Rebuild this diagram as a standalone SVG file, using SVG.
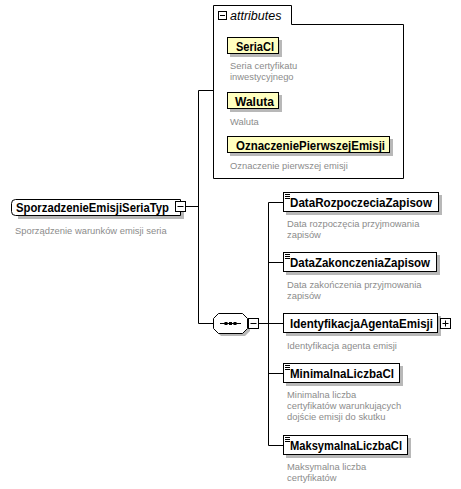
<svg xmlns="http://www.w3.org/2000/svg" width="461" height="489" viewBox="0 0 461 489">
<style>
.lbl{font-family:"Liberation Sans",Arial,sans-serif;font-weight:bold;font-size:12.6px;fill:#000}
.desc{font-family:"Liberation Sans",Arial,sans-serif;font-size:9.4px;fill:#8c8c8c}
.box{fill:#fff;stroke:#000;stroke-width:1}
.attr{fill:#ffffc0;stroke:#000;stroke-width:1}
.sh{fill:#b8b8b8}
.ln{stroke:#000;stroke-width:1;fill:none}
.btn{fill:#fff;stroke:#000;stroke-width:1}
</style>
<rect width="461" height="489" fill="#fff"/>
<g id="connectors" class="ln">
<path d="M185.5,206.5 H198.5 M198.5,90.5 V323.5 M198.5,90.5 H213.5 M198.5,323.5 H213.5"/>
<path d="M258.5,323.5 H283 M268.5,202.5 V445.5 M268.5,202.5 H283 M268.5,262.5 H283 M268.5,373.5 H283 M268.5,445.5 H283"/>
</g>
<g id="root">
<path class="sh" d="M18,202 H184 V219 H18 Z"/>
<path class="box" d="M15.5,199.5 H180.5 V215.5 H15.5 Q11.5,215.5 11.5,211.5 V203.5 Q11.5,199.5 15.5,199.5 Z"/>
<text class="lbl" x="16" y="212" textLength="153" lengthAdjust="spacingAndGlyphs">SporzadzenieEmisjiSeriaTyp</text>
<rect class="btn" x="175.5" y="201.5" width="10" height="10"/>
<path class="ln" d="M177.5,206.5 H183.5"/>
<text class="desc" x="15" y="234">Sporządzenie warunków emisji seria</text>
</g>
<g id="attributes">
<path class="box" d="M213.5,178.5 V5.5 H291.5 V24.5 H403.5 V178.5 Z"/>
<rect class="btn" x="218.5" y="11.5" width="8" height="8"/>
<path class="ln" d="M220,15.5 H225"/>
<text x="230" y="20" font-family="'Liberation Sans',Arial,sans-serif" font-style="italic" font-size="12.5px" fill="#000">attributes</text>
</g>
<g id="attr-SeriaCl">
<rect class="sh" x="230" y="40" width="52" height="17"/>
<rect class="attr" x="227.5" y="37.5" width="51" height="16"/>
<text class="lbl" x="236" y="50.5" textLength="38" lengthAdjust="spacingAndGlyphs">SeriaCl</text>
<text class="desc" x="230" y="69">Seria certyfikatu</text>
<text class="desc" x="230" y="80">inwestycyjnego</text>
</g>
<g id="attr-Waluta">
<rect class="sh" x="230" y="95" width="52" height="17"/>
<rect class="attr" x="227.5" y="92.5" width="51" height="16"/>
<text class="lbl" x="235" y="105.5" textLength="39" lengthAdjust="spacingAndGlyphs">Waluta</text>
<text class="desc" x="230" y="125">Waluta</text>
</g>
<g id="attr-OznaczeniePierwszejEmisji">
<rect class="sh" x="230" y="139" width="163" height="17"/>
<rect class="attr" x="227.5" y="136.5" width="162" height="16"/>
<text class="lbl" x="236" y="149.5" textLength="149" lengthAdjust="spacingAndGlyphs">OznaczeniePierwszejEmisji</text>
<text class="desc" x="230" y="169">Oznaczenie pierwszej emisji</text>
</g>
<g id="sequence">
<path class="sh" d="M221,316 H245 L250,321 V331 L245,336 H221 L216,331 V321 Z"/>
<path class="box" d="M218.5,313.5 H242.5 L247.5,318.5 V328.5 L242.5,333.5 H218.5 L213.5,328.5 V318.5 Z"/>
<path class="ln" d="M220,323.5 H241"/>
<rect x="224.5" y="322" width="3" height="3" fill="#000"/>
<rect x="229" y="322" width="3" height="3" fill="#000"/>
<rect x="233.5" y="322" width="3" height="3" fill="#000"/>
<rect class="btn" x="248.5" y="318.5" width="10" height="10"/>
<path class="ln" d="M250.5,323.5 H256.5"/>
</g>
<g id="el-DataRozpoczeciaZapisow">
<rect class="sh" x="286" y="195" width="156" height="20"/>
<rect class="box" x="283.5" y="192.5" width="155" height="19"/>
<path class="ln" d="M285,194.5 H290 M285,196.5 H290 M285,198.5 H290"/>
<text class="lbl" x="290" y="207" textLength="142" lengthAdjust="spacingAndGlyphs">DataRozpoczeciaZapisow</text>
<text class="desc" x="287" y="227">Data rozpoczęcia przyjmowania</text>
<text class="desc" x="287" y="238">zapisów</text>
</g>
<g id="el-DataZakonczeniaZapisow">
<rect class="sh" x="286" y="255" width="154" height="20"/>
<rect class="box" x="283.5" y="252.5" width="153" height="19"/>
<path class="ln" d="M285,254.5 H290 M285,256.5 H290 M285,258.5 H290"/>
<text class="lbl" x="290" y="267" textLength="140" lengthAdjust="spacingAndGlyphs">DataZakonczeniaZapisow</text>
<text class="desc" x="287" y="288">Data zakończenia przyjmowania</text>
<text class="desc" x="287" y="299">zapisów</text>
</g>
<g id="el-IdentyfikacjaAgentaEmisji">
<rect class="sh" x="286" y="316" width="155" height="20"/>
<rect class="box" x="283.5" y="313.5" width="154" height="19"/>
<text class="lbl" x="290" y="328" textLength="143" lengthAdjust="spacingAndGlyphs">IdentyfikacjaAgentaEmisji</text>
<rect class="btn" x="440.5" y="318.5" width="10" height="10"/>
<path class="ln" d="M442.5,323.5 H448.5 M445.5,320.5 V326.5"/>
<text class="desc" x="287" y="349">Identyfikacja agenta emisji</text>
</g>
<g id="el-MinimalnaLiczbaCl">
<rect class="sh" x="286" y="366" width="117" height="20"/>
<rect class="box" x="283.5" y="363.5" width="116" height="19"/>
<path class="ln" d="M285,365.5 H290 M285,367.5 H290 M285,369.5 H290"/>
<text class="lbl" x="290" y="378" textLength="104" lengthAdjust="spacingAndGlyphs">MinimalnaLiczbaCl</text>
<text class="desc" x="287" y="398">Minimalna liczba</text>
<text class="desc" x="287" y="409">certyfikatów warunkujących</text>
<text class="desc" x="287" y="420">dojście emisji do skutku</text>
</g>
<g id="el-MaksymalnaLiczbaCl">
<rect class="sh" x="286" y="438" width="125" height="20"/>
<rect class="box" x="283.5" y="435.5" width="124" height="19"/>
<path class="ln" d="M285,437.5 H290 M285,439.5 H290 M285,441.5 H290"/>
<text class="lbl" x="290" y="450" textLength="112" lengthAdjust="spacingAndGlyphs">MaksymalnaLiczbaCl</text>
<text class="desc" x="287" y="470">Maksymalna liczba</text>
<text class="desc" x="287" y="481">certyfikatów</text>
</g>
</svg>
